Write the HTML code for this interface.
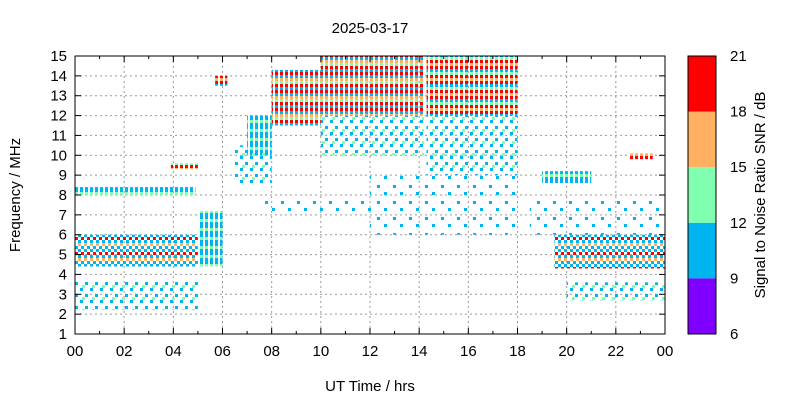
<!DOCTYPE html>
<html><head><meta charset="utf-8"><style>
body{margin:0;background:#fff;font-family:"Liberation Sans",sans-serif}
svg text{font-family:"Liberation Sans",sans-serif;font-size:15px;fill:#000}
</style></head><body>
<svg id="c" width="800" height="400" xmlns="http://www.w3.org/2000/svg">
<defs>
<pattern id="p-mix" width="5" height="18" patternUnits="userSpaceOnUse">
<rect x="0" y="0" width="3" height="3" fill="#ff0000"/><rect x="0" y="3" width="3" height="3" fill="#00b4f0"/>
<rect x="0" y="6" width="3" height="3" fill="#ffb060"/><rect x="0" y="9" width="3" height="3" fill="#80ffb0"/>
<rect x="0" y="12" width="3" height="3" fill="#ff0000"/><rect x="0" y="15" width="3" height="3" fill="#00b4f0"/></pattern>
<pattern id="p-red" width="5" height="15" patternUnits="userSpaceOnUse">
<rect x="0" y="0" width="3" height="3" fill="#ff0000"/><rect x="0" y="3" width="3" height="3" fill="#ffb060"/>
<rect x="0" y="6" width="3" height="3" fill="#ff0000"/><rect x="0" y="9" width="3" height="3" fill="#00b4f0"/>
<rect x="0" y="12" width="3" height="3" fill="#80ffb0"/></pattern>
<pattern id="p-low" width="6" height="15" patternUnits="userSpaceOnUse">
<rect x="0" y="0" width="3" height="3" fill="#00b4f0"/><rect x="0" y="3" width="3" height="3" fill="#ffb060"/>
<rect x="0" y="9" width="3" height="3" fill="#00b4f0"/><rect x="3" y="6" width="3" height="3" fill="#00b4f0"/>
<rect x="3" y="12" width="3" height="3" fill="#ff0000"/></pattern>
<pattern id="p-blue" width="5" height="9" patternUnits="userSpaceOnUse">
<rect x="0" y="0" width="3" height="3" fill="#00b4f0"/><rect x="0" y="3" width="3" height="3" fill="#80ffb0"/>
<rect x="0" y="6" width="3" height="3" fill="#00b4f0"/></pattern>
<pattern id="p-sparse" width="10" height="12" patternUnits="userSpaceOnUse">
<rect x="0" y="0" width="3" height="3" fill="#00b4f0"/><rect x="5" y="6" width="3" height="3" fill="#00b4f0"/><rect x="2" y="9" width="3" height="3" fill="#80ffb0"/></pattern>
<pattern id="p-vsparse" width="16" height="16" patternUnits="userSpaceOnUse">
<rect x="0" y="0" width="3" height="3" fill="#00b4f0"/><rect x="9" y="9" width="3" height="3" fill="#00b4f0"/></pattern>
</defs>
<g id="grid"></g><g id="marks"></g><g id="axes"></g>
</svg>
<script>
const X0=75,X1=665,Y0=334,Y1=56;
const xTicks=["00","02","04","06","08","10","12","14","16","18","20","22","00"];
const yTicks=[1,2,3,4,5,6,7,8,9,10,11,12,13,14,15];
const cbTicks=[6,9,12,15,18,21];
const cbColors=["#8000ff","#00b4f0","#80ffb0","#ffb060","#ff0000"];
// blocks: time start/end (h), freq lo/hi (MHz), dominant fill
const blockT0=[8.0,10.0,14.3,7.0,10.0,14.3,0.0,0.0,0.0,5.0,19.5,20.0,19.0,22.5,3.9,6.5,18.5,5.7,12.0,7.5];
const blockT1=[10.0,14.2,18.0,8.0,14.2,18.0,4.9,5.0,5.0,6.0,24.0,24.0,21.0,23.5,5.0,8.0,24.0,6.2,18.0,18.0];
const blockF0=[11.5,12.0,12.0,10.0,10.0,9.0,8.0,4.4,2.2,4.4,4.3,2.7,8.6,9.8,9.3,8.5,6.0,13.5,6.0,7.0];
const blockF1=[14.3,15.0,15.0,12.0,12.0,12.0,8.4,6.0,3.7,7.2,6.0,3.6,9.2,10.1,9.6,10.5,8.0,14.0,9.0,8.0];
const blockFill=["mix","mix","red","blue","sparse","sparse","blue","low","sparse","blue","low","sparse","blue","red","red","sparse","vsparse","red","vsparse","vsparse"];
const x=t=>X0+t/24*(X1-X0), y=f=>Y0-(f-1)/14*(Y0-Y1);
const NS="http://www.w3.org/2000/svg";
function mk(tag,attrs,parent,txt){const e=document.createElementNS(NS,tag);for(const k in attrs)e.setAttribute(k,attrs[k]);if(txt!==undefined)e.textContent=txt;document.getElementById(parent).appendChild(e);return e;}
xTicks.forEach((l,i)=>{const xx=x(i*2);
 if(i>0&&i<xTicks.length-1){const g=mk("line",{x1:xx,x2:xx,y1:Y1,y2:Y0,stroke:"#999","stroke-dasharray":"2,3"},"grid");}
 const t=mk("text",{x:xx,y:Y0+22,"text-anchor":"middle"},"axes",l);
 mk("line",{x1:xx,x2:xx,y1:Y0,y2:Y0-6,stroke:"#000"},"axes");mk("line",{x1:xx,x2:xx,y1:Y1,y2:Y1+6,stroke:"#000"},"axes");
 if(i<xTicks.length-1){const xm=x(i*2+1);mk("line",{x1:xm,x2:xm,y1:Y0,y2:Y0-3,stroke:"#000"},"axes");mk("line",{x1:xm,x2:xm,y1:Y1,y2:Y1+3,stroke:"#000"},"axes");}
});
yTicks.forEach(v=>{const yy=y(v);
 if(v>1&&v<15){const g=mk("line",{x1:X0,x2:X1,y1:yy,y2:yy,stroke:"#999","stroke-dasharray":"2,3"},"grid");}
 const t=mk("text",{x:X0-8,y:yy+5,"text-anchor":"end"},"axes",v);
 mk("line",{x1:X0,x2:X0+6,y1:yy,y2:yy,stroke:"#000"},"axes");mk("line",{x1:X1,x2:X1-6,y1:yy,y2:yy,stroke:"#000"},"axes");
});
blockT0.forEach((t0,i)=>{const r=mk("rect",{x:x(t0),y:y(blockF1[i]),width:x(blockT1[i])-x(t0),height:y(blockF0[i])-y(blockF1[i]),fill:"url(#p-"+blockFill[i]+")"},"marks");
 });
const frame=mk("rect",{x:X0,y:Y1,width:X1-X0,height:Y0-Y1,fill:"none",stroke:"#000"},"axes");

const cbx=688,cbw=28,cbh=(Y0-Y1)/cbColors.length;
cbColors.forEach((c,i)=>{const r=mk("rect",{x:cbx,y:Y0-(i+1)*cbh,width:cbw,height:cbh,fill:c},"axes");});
mk("rect",{x:cbx,y:Y1,width:cbw,height:Y0-Y1,fill:"none",stroke:"#000"},"axes");
cbTicks.forEach((v,i)=>{const yy=Y0-i*cbh;const t=mk("text",{x:cbx+cbw+14,y:yy+5},"axes",v);});
let t=mk("text",{x:370,y:33,"text-anchor":"middle"},"axes","2025-03-17");
t=mk("text",{x:370,y:391,"text-anchor":"middle"},"axes","UT Time / hrs");
t=mk("text",{x:20,y:195,"text-anchor":"middle",transform:"rotate(-90 20 195)"},"axes","Frequency / MHz");
t=mk("text",{x:765,y:195,"text-anchor":"middle",transform:"rotate(-90 765 195)"},"axes","Signal to Noise Ratio SNR / dB");
</script>
</body></html>
